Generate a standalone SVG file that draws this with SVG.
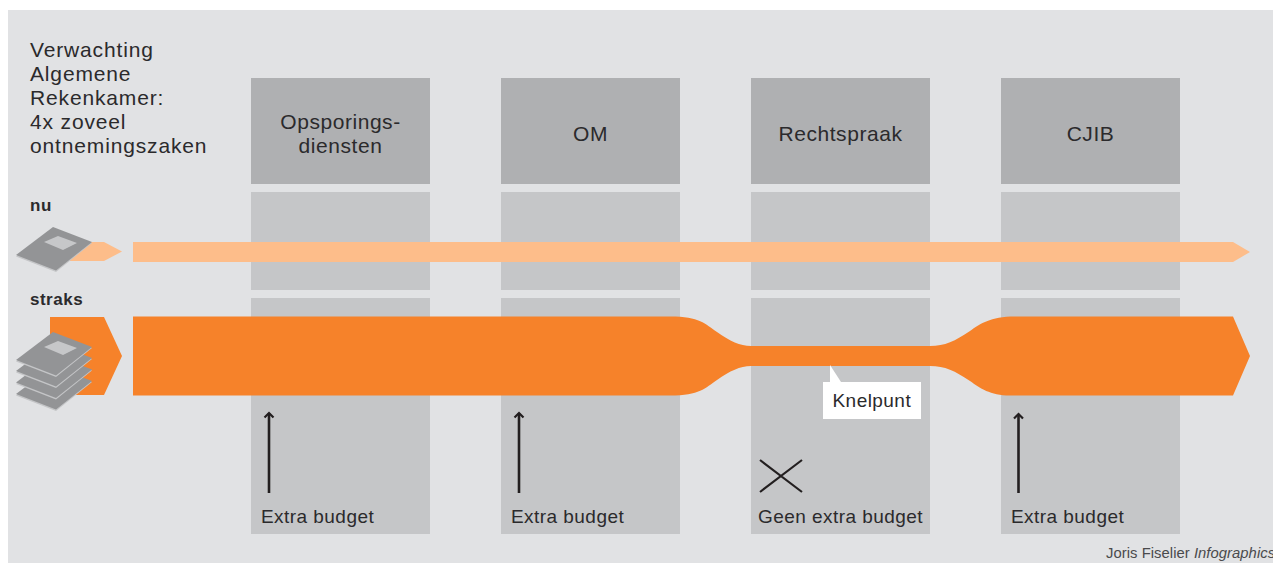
<svg xmlns="http://www.w3.org/2000/svg" width="1273" height="563" viewBox="0 0 1273 563">
<style>
text{font-family:"Liberation Sans",Arial,sans-serif;fill:#2b2a2c;font-size:21px;letter-spacing:.55px}
.t{letter-spacing:.85px}
.h{text-anchor:middle}
.b{font-size:19px;letter-spacing:.45px}
.bold{font-weight:bold;font-size:17px;letter-spacing:.5px}
.c{font-size:14.800px;letter-spacing:.05px;fill:#4a4a4c}
.head{fill:#afb0b2}
.lane{fill:#c5c6c8}
.ar{stroke:#231f20;stroke-width:2.600;fill:none}
.light{fill:#fdbd8a}
.or{fill:#f6822a}
.p1{fill:#c4c5c7}
.p2{fill:#939496}
.p3{fill:#c6c7c9}
</style>
<defs>
<g id="doc">
<path class="p1" d="M16 256.500L56 272L92 243L53 228Z"/>
<path class="p2" d="M16 255L56 270.500L92 242L53 227Z"/>
</g>
<path id="cover" class="p3" d="M44 242L58 236L77 243L63 250Z"/>
<marker id="ah" markerUnits="userSpaceOnUse" markerWidth="12" markerHeight="12" refX="9" refY="6" orient="auto"><path d="M4.500 1.500L9 6L4.500 10.500" fill="none" stroke="#231f20" stroke-width="2.200"/></marker>
</defs>
<rect x="8" y="10" width="1265" height="553" fill="#e1e2e4"/>
<g id="title">
<text class="t" x="30" y="57">Verwachting</text>
<text class="t" x="30" y="81">Algemene</text>
<text class="t" x="30" y="105">Rekenkamer:</text>
<text class="t" x="30" y="129">4x zoveel</text>
<text class="t" x="30" y="153">ontnemingszaken</text>
</g>
<g id="col-opsporing">
<rect class="head" x="251" y="78" width="179" height="106"/>
<rect class="lane" x="251" y="192" width="179" height="98"/>
<rect class="lane" x="251" y="298" width="179" height="236"/>
<text class="h" x="340.500" y="129">Opsporings-</text>
<text class="h" x="340.500" y="153">diensten</text>
</g>
<g id="col-om">
<rect class="head" x="501" y="78" width="179" height="106"/>
<rect class="lane" x="501" y="192" width="179" height="98"/>
<rect class="lane" x="501" y="298" width="179" height="236"/>
<text class="h" x="590.500" y="141">OM</text>
</g>
<g id="col-rechtspraak">
<rect class="head" x="751" y="78" width="179" height="106"/>
<rect class="lane" x="751" y="192" width="179" height="98"/>
<rect class="lane" x="751" y="298" width="179" height="236"/>
<text class="h" x="840.500" y="141">Rechtspraak</text>
</g>
<g id="col-cjib">
<rect class="head" x="1001" y="78" width="179" height="106"/>
<rect class="lane" x="1001" y="192" width="179" height="98"/>
<rect class="lane" x="1001" y="298" width="179" height="236"/>
<text class="h" x="1090.500" y="141">CJIB</text>
</g>
<g id="label-nu"><text class="bold" x="30" y="211">nu</text></g>
<g id="label-straks"><text class="bold" x="30" y="305">straks</text></g>
<g id="input-nu">
<path class="light" d="M70 242H104L122 251.500L104 261H70Z"/>
<use href="#doc"/><use href="#cover"/>
</g>
<g id="input-straks">
<path class="or" d="M50 317H104L122 356L104 395H50Z"/>
<use href="#doc" y="139"/><use href="#doc" y="127.500"/><use href="#doc" y="116"/><use href="#doc" y="105"/><use href="#cover" y="105"/>
</g>
<g id="connectors">
<path id="flow-nu" class="light" d="M133 242H1233L1250 252L1233 262H133Z"/>
<path id="flow-straks" class="or" d="M133 316.500H670C700 316.500 705 324 717 332C730 341 740 346 751 346H930C945 346 955 341 970 331C980 324 990 316.500 1015 316.500H1233L1250 356L1233 395.500H1010C990 395.500 980 388 970 381C955 371 945 366 930 366H751C740 366 730 371 717 380C705 388 700 395.500 670 395.500H133Z"/>
<path class="ar" d="M269 493V413" marker-end="url(#ah)"/>
<path class="ar" d="M519 493V413" marker-end="url(#ah)"/>
<path class="ar" d="M1018.500 493V414" marker-end="url(#ah)"/>
</g>
<g id="budget-labels">
<text class="b" x="261" y="523">Extra budget</text>
<text class="b" x="511" y="523">Extra budget</text>
<text class="b" x="758" y="523">Geen extra budget</text>
<text class="b" x="1011" y="523">Extra budget</text>
<path d="M760 492L802 460M760 460L802 492" stroke="#231f20" stroke-width="2.200" fill="none"/>
</g>
<g id="knelpunt">
<path d="M823 382H830V365L841 382H921V419H823Z" fill="#fff"/>
<text class="b" x="832.500" y="407">Knelpunt</text>
</g>
<text class="c" x="1106" y="558">Joris Fiselier <tspan font-style="italic">Infographics</tspan></text>
</svg>
